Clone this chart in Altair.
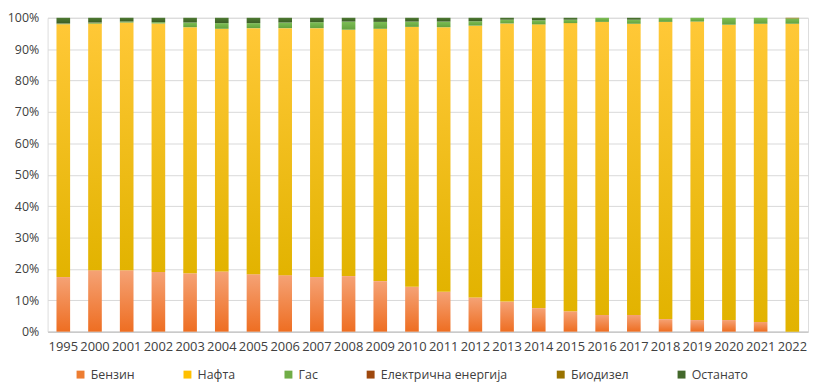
import altair as alt
import pandas as pd

years = ["1995","2000","2001","2002","2003","2004","2005","2006","2007","2008","2009","2010",
         "2011","2012","2013","2014","2015","2016","2017","2018","2019","2020","2021","2022"]
series = ["Бензин", "Нафта", "Гас", "Електрична енергија", "Биодизел", "Останато"]

benzin = [17.4,19.6,19.6,19.0,18.6,19.2,18.3,18.0,17.4,17.7,16.1,14.3,12.7,10.9,9.6,7.5,6.5,5.3,5.3,4.0,3.7,3.7,3.1,0.0]
nafta  = [80.6,78.6,78.9,79.2,78.4,77.3,78.4,78.7,79.3,78.5,80.4,82.8,84.3,86.6,88.6,90.4,91.8,93.4,92.8,94.7,95.1,94.1,95.0,98.1]
gas    = [0.2,0.3,0.3,0.4,1.5,1.8,1.6,1.8,1.9,2.6,2.2,1.7,1.8,1.4,1.2,1.3,1.1,1.3,1.3,1.3,1.2,2.2,1.9,1.7]
elec   = [0.05,0.05,0.0,0.0,0.0,0.0,0.0,0.0,0.0,0.0,0.0,0.0,0.0,0.0,0.0,0.0,0.0,0.0,0.0,0.0,0.0,0.0,0.0,0.0]
biod   = [0.0,0.0,0.0,0.0,0.0,0.0,0.0,0.0,0.0,0.0,0.0,0.0,0.0,0.0,0.0,0.0,0.0,0.0,0.0,0.0,0.0,0.0,0.0,0.2]
ostan  = [1.8,1.5,1.2,1.4,1.5,1.7,1.7,1.5,1.4,1.2,1.3,1.2,1.2,1.1,0.6,0.8,0.6,0.0,0.6,0.0,0.0,0.0,0.0,0.0]

colors = ["#ED7D31", "#FFC000", "#70AD47", "#9E480E", "#997300", "#43682B"]

values = [benzin, nafta, gas, elec, biod, ostan]
rows = []
for si, (s, vals) in enumerate(zip(series, values)):
    for y, v in zip(years, vals):
        rows.append({"year": y, "series": s, "order": si, "value": v})
df = pd.DataFrame(rows)

def grad(top, bottom):
    return alt.Gradient(
        gradient="linear",
        stops=[alt.GradientStop(color=top, offset=0), alt.GradientStop(color=bottom, offset=1)],
        x1=0, x2=0, y1=0, y2=1,
    )

fills = {
    "Бензин": grad("#F5A275", "#EE6E22"),
    "Нафта": grad("#FFC837", "#E2B300"),
    "Гас": grad("#7DBE55", "#63A23E"),
    "Електрична енергија": "#9E480E",
    "Биодизел": "#997300",
    "Останато": grad("#4E7A32", "#3B5E25"),
}

FONT = "Open Sans"

xenc = alt.X("year:N", sort=years, title=None,
             scale=alt.Scale(paddingInner=0.57, paddingOuter=0.28),
             axis=alt.Axis(labelAngle=0, labelFontSize=13, labelColor="#404040",
                           labelFont=FONT, ticks=False, domainColor="#BFBFBF",
                           labelPadding=9, labelOverlap=False))
yenc = alt.Y("y0:Q", title=None,
             scale=alt.Scale(domain=[0, 1], nice=False),
             axis=alt.Axis(format=".0%", values=[i / 10 for i in range(11)],
                           labelFontSize=12.5, labelColor="#404040", labelFont=FONT,
                           ticks=False, domain=False, gridColor="#D9D9D9", labelPadding=9,
                           labelOverlap=False))

base = alt.Chart(df).transform_stack(
    stack="value", as_=["y0", "y1"], groupby=["year"],
    sort=[alt.SortField("order", order="ascending")], offset="normalize",
)

layers = []
for s in series:
    layers.append(
        base.transform_filter(alt.datum.series == s)
        .mark_bar(color=fills[s])
        .encode(x=xenc, y=yenc, y2="y1:Q")
    )

legend_layer = base.mark_bar(opacity=0).encode(
    x=xenc, y=yenc, y2="y1:Q",
    color=alt.Color("series:N", sort=series,
                    scale=alt.Scale(domain=series, range=colors),
                    legend=alt.Legend(title=None, orient="none", legendX=27, legendY=354,
                                      direction="horizontal", columns=6, columnPadding=47,
                                      symbolType="square", symbolSize=64, symbolOpacity=1,
                                      symbolStrokeWidth=0,
                                      labelFontSize=12.5, labelColor="#404040",
                                      labelFont=FONT, labelOffset=4)),
)

chart = alt.layer(*layers, legend_layer).properties(
    width=768, height=317,
    autosize=alt.AutoSizeParams(type="none"),
    padding={"left": 40, "top": 8, "right": 2, "bottom": 52},
).configure_view(stroke=None).configure(background="white")

chart.save("out.html", embed_options={"renderer": "svg", "actions": False})
